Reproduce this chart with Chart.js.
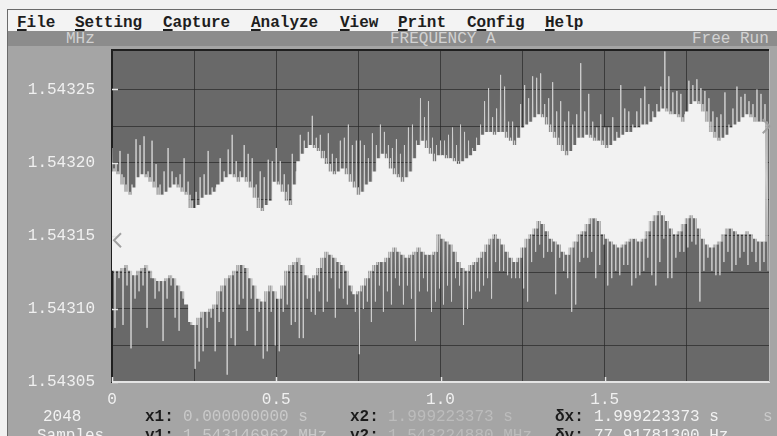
<!DOCTYPE html>
<html><head><meta charset="utf-8">
<script src="https://cdn.jsdelivr.net/npm/chart.js@4/dist/chart.umd.min.js"></script>
<style>
html,body{margin:0;padding:0;width:777px;height:436px;overflow:hidden;background:#f1f1f1;}
#frame{position:absolute;left:7px;top:9px;width:770px;height:427px;border-left:1px solid #6a6a6a;border-top:1px solid #6a6a6a;background:#f3f3f3;}
#panel{position:absolute;left:8px;top:31px;width:769px;height:405px;background:#a5a5a5;}
#titlebar{position:absolute;left:8px;top:31px;width:769px;height:15px;background:#8c8c8c;}
.t{position:absolute;font-family:"Liberation Mono",monospace;font-size:16px;line-height:16px;white-space:pre;}
.menu{font-weight:bold;color:#1e1e1e;top:15px;}
.menu u{text-decoration-thickness:2px;text-underline-offset:2px;}
.title{color:#d2d2d2;top:31px;}
.lbl{font-weight:bold;color:#1b1b1b;}
.val1{color:#c9c9c9;}
.val2{color:#bcbcbc;}
.valw{color:#f2f2f2;}
canvas{position:absolute;left:0;top:0;}
</style></head>
<body>
<div id="frame"></div>
<div id="panel"></div>
<div id="titlebar"></div>
<span class="t menu" style="left:17px"><u>F</u>ile</span>
<span class="t menu" style="left:75px"><u>S</u>etting</span>
<span class="t menu" style="left:163px"><u>C</u>apture</span>
<span class="t menu" style="left:251px"><u>A</u>nalyze</span>
<span class="t menu" style="left:340px"><u>V</u>iew</span>
<span class="t menu" style="left:398px"><u>P</u>rint</span>
<span class="t menu" style="left:467px">C<u>o</u>nfig</span>
<span class="t menu" style="left:545px"><u>H</u>elp</span>
<span class="t title" style="left:66px">MHz</span>
<span class="t title" style="left:390px">FREQUENCY A</span>
<span class="t title" style="left:692px">Free Run</span>
<canvas id="c" width="777" height="436"></canvas>
<span class="t valw" style="left:43px;top:409px">2048</span>
<span class="t lbl" style="left:145px;top:409px">x1:</span>
<span class="t val1" style="left:183px;top:409px">0.000000000 s</span>
<span class="t lbl" style="left:350px;top:409px">x2:</span>
<span class="t val2" style="left:388px;top:409px">1.999223373 s</span>
<span class="t lbl" style="left:555px;top:409px">δx:</span>
<span class="t valw" style="left:594px;top:409px">1.999223373 s</span>
<span class="t val1" style="left:763px;top:409px">s</span>
<span class="t valw" style="left:37px;top:428px">Samples</span>
<span class="t lbl" style="left:145px;top:428px">y1:</span>
<span class="t val1" style="left:183px;top:428px">1.543146962 MHz</span>
<span class="t lbl" style="left:350px;top:428px">y2:</span>
<span class="t val2" style="left:388px;top:428px">1.543224880 MHz</span>
<span class="t lbl" style="left:555px;top:428px">δy:</span>
<span class="t valw" style="left:594px;top:428px">77.91781300 Hz</span>
<script>
// ---- data (MHz), read per ~4 px column of the trace ----
const duration = 2.0; // seconds shown
const spikeHigh = [
1.543210,1.543199,1.543208,1.543190,1.543206,1.543185,1.543216,1.543212,1.543218,1.543194,1.543215,1.543199,1.543185,1.543194,1.543210,1.543194,1.543190,1.543192,1.543203,1.543187,1.543174,1.543180,1.543190,1.543192,1.543208,1.543183,1.543183,1.543203,1.543194,1.543209,1.543219,1.543201,1.543194,1.543212,1.543206,1.543203,1.543185,1.543194,1.543190,1.543202,1.543201,
1.543210,1.543201,1.543192,1.543185,1.543206,1.543194,1.543219,1.543215,1.543221,1.543232,1.543217,1.543219,1.543208,1.543220,1.543206,1.543203,1.543215,1.543217,1.543226,1.543212,1.543215,1.543215,1.543212,1.543203,1.543220,1.543212,1.543226,1.543221,1.543212,1.543210,1.543216,1.543206,1.543212,1.543224,1.543226,1.543215,1.543244,1.543231,1.543242,1.543217,1.543212,
1.543215,1.543215,1.543219,1.543224,1.543212,1.543226,1.543221,1.543215,1.543210,1.543217,1.543226,1.543242,1.543251,1.543231,1.543237,1.543260,1.543252,1.543228,1.543228,1.543224,1.543240,1.543253,1.543244,1.543259,1.543258,1.543261,1.543240,1.543244,1.543255,1.543235,1.543242,1.543228,1.543235,1.543226,1.543233,1.543268,1.543235,1.543247,1.543228,1.543224,1.543233,
1.543224,1.543224,1.543231,1.543221,1.543253,1.543237,1.543235,1.543226,1.543235,1.543244,1.543252,1.543240,1.543235,1.543240,1.543252,1.543276,1.543259,1.543248,1.543249,1.543247,1.543233,1.543256,1.543253,1.543257,1.543251,1.543249,1.543244,1.543235,1.543231,1.543233,1.543248,1.543226,1.543237,1.543252,1.543245,1.543247,1.543242,1.543240,1.543250,1.543247,1.543240];
const coreTop = [
1.543196,1.543194,1.543192,1.543185,1.543180,1.543178,1.543183,1.543190,1.543192,1.543190,1.543187,1.543183,1.543178,1.543178,1.543180,1.543183,1.543185,1.543183,1.543180,1.543178,1.543169,1.543169,1.543171,1.543176,1.543178,1.543178,1.543180,1.543185,1.543187,1.543190,1.543192,1.543190,1.543187,1.543190,1.543187,1.543183,1.543176,1.543169,1.543167,1.543171,1.543174,
1.543187,1.543185,1.543180,1.543174,1.543171,1.543185,1.543201,1.543206,1.543210,1.543212,1.543210,1.543208,1.543203,1.543199,1.543194,1.543192,1.543194,1.543196,1.543192,1.543187,1.543183,1.543178,1.543180,1.543185,1.543187,1.543194,1.543203,1.543206,1.543203,1.543196,1.543192,1.543190,1.543187,1.543190,1.543194,1.543203,1.543212,1.543215,1.543210,1.543206,1.543201,
1.543205,1.543205,1.543203,1.543203,1.543201,1.543199,1.543201,1.543203,1.543205,1.543208,1.543212,1.543219,1.543221,1.543221,1.543219,1.543221,1.543221,1.543217,1.543215,1.543212,1.543217,1.543224,1.543226,1.543228,1.543231,1.543233,1.543231,1.543226,1.543221,1.543217,1.543212,1.543208,1.543205,1.543208,1.543212,1.543217,1.543217,1.543219,1.543217,1.543215,1.543215,
1.543212,1.543210,1.543212,1.543215,1.543217,1.543219,1.543221,1.543221,1.543224,1.543224,1.543226,1.543226,1.543228,1.543231,1.543235,1.543237,1.543235,1.543233,1.543233,1.543231,1.543228,1.543235,1.543240,1.543242,1.543240,1.543235,1.543228,1.543221,1.543217,1.543215,1.543217,1.543219,1.543224,1.543226,1.543228,1.543231,1.543233,1.543231,1.543228,1.543228,1.543228];
const coreBottom = [
1.543130,1.543126,1.543126,1.543128,1.543130,1.543126,1.543123,1.543126,1.543128,1.543130,1.543126,1.543121,1.543119,1.543119,1.543121,1.543123,1.543121,1.543116,1.543112,1.543103,1.543091,1.543089,1.543094,1.543098,1.543098,1.543100,1.543103,1.543112,1.543116,1.543121,1.543123,1.543126,1.543130,1.543130,1.543128,1.543121,1.543116,1.543107,1.543105,1.543112,1.543116,
1.543112,1.543107,1.543116,1.543126,1.543130,1.543132,1.543135,1.543130,1.543123,1.543121,1.543123,1.543128,1.543135,1.543139,1.543137,1.543135,1.543132,1.543130,1.543126,1.543116,1.543110,1.543112,1.543116,1.543121,1.543126,1.543130,1.543132,1.543132,1.543135,1.543139,1.543142,1.543139,1.543137,1.543135,1.543137,1.543139,1.543142,1.543139,1.543137,1.543137,1.543139,
1.543151,1.543148,1.543146,1.543144,1.543139,1.543132,1.543128,1.543126,1.543130,1.543132,1.543135,1.543139,1.543144,1.543148,1.543151,1.543148,1.543144,1.543139,1.543135,1.543132,1.543135,1.543142,1.543148,1.543151,1.543155,1.543160,1.543158,1.543153,1.543148,1.543146,1.543144,1.543139,1.543137,1.543142,1.543146,1.543151,1.543153,1.543158,1.543162,1.543162,1.543160,
1.543151,1.543148,1.543146,1.543144,1.543142,1.543144,1.543146,1.543148,1.543148,1.543146,1.543148,1.543153,1.543160,1.543164,1.543167,1.543164,1.543160,1.543155,1.543151,1.543153,1.543158,1.543162,1.543164,1.543162,1.543155,1.543148,1.543144,1.543142,1.543144,1.543146,1.543151,1.543155,1.543155,1.543153,1.543151,1.543151,1.543153,1.543151,1.543148,1.543146,1.543146];
const spikeLow = [
1.543087,1.543121,1.543089,1.543116,1.543073,1.543107,1.543112,1.543116,1.543087,1.543121,1.543107,1.543112,1.543078,1.543107,1.543116,1.543094,1.543085,1.543107,1.543107,1.543089,1.543059,1.543064,1.543071,1.543087,1.543094,1.543071,1.543091,1.543098,1.543055,1.543080,1.543075,1.543103,1.543107,1.543085,1.543107,1.543075,1.543098,1.543066,1.543071,1.543098,1.543075,
1.543071,1.543098,1.543103,1.543089,1.543091,1.543080,1.543080,1.543107,1.543098,1.543096,1.543112,1.543098,1.543105,1.543121,1.543094,1.543114,1.543107,1.543103,1.543112,1.543098,1.543069,1.543100,1.543105,1.543091,1.543105,1.543116,1.543098,1.543112,1.543103,1.543121,1.543116,1.543103,1.543116,1.543107,1.543078,1.543112,1.543121,1.543112,1.543098,1.543105,1.543114,
1.543103,1.543116,1.543105,1.543121,1.543116,1.543089,1.543100,1.543107,1.543112,1.543112,1.543116,1.543121,1.543107,1.543132,1.543126,1.543126,1.543123,1.543121,1.543121,1.543121,1.543114,1.543105,1.543132,1.543139,1.543144,1.543135,1.543139,1.543139,1.543110,1.543135,1.543126,1.543121,1.543098,1.543103,1.543132,1.543135,1.543135,1.543139,1.543121,1.543130,1.543144,
1.543116,1.543121,1.543126,1.543123,1.543130,1.543130,1.543116,1.543121,1.543123,1.543126,1.543135,1.543123,1.543116,1.543132,1.543148,1.543121,1.543121,1.543135,1.543139,1.543139,1.543142,1.543146,1.543144,1.543105,1.543126,1.543135,1.543126,1.543123,1.543123,1.543132,1.543139,1.543126,1.543130,1.543135,1.543139,1.543130,1.543139,1.543132,1.543126,1.543132,1.543126];

const xGridValues = [0,0.25,0.5,0.75,1.0,1.25,1.5,1.75,2.0];
const xTickValues = [0,0.5,1.0,1.5];
const xTickLabels = ['0','0.5','1.0','1.5'];
const yMin = 1.54305, yMax = 1.543277;
const yGridValues = [1.54305,1.543075,1.5431,1.543125,1.54315,1.543175,1.5432,1.543225,1.54325,1.543277];
const yTickValues = [1.54305,1.5431,1.54315,1.5432,1.54325];
const yTickLabels = ['1.54305','1.54310','1.54315','1.54320','1.54325'];
const cursorX = [0.0, 1.999223373];
const cursorY = [1.543146962, 1.543224880];

// ---- build point tables: 4 samples per column (high, core bottom, core top, low) ----
const n = spikeHigh.length;
const dt = duration / n;
const tracePts = [], topPts = [], botPts = [];
for (let i = 0; i < n; i++) {
  const t0 = i * dt;
  tracePts.push({x: t0, y: spikeHigh[i]});
  tracePts.push({x: t0 + dt / 4, y: coreBottom[i]});
  tracePts.push({x: t0 + dt / 2, y: coreTop[i]});
  tracePts.push({x: t0 + 3 * dt / 4, y: spikeLow[i]});
  topPts.push({x: t0, y: coreTop[i]});
  botPts.push({x: t0, y: coreBottom[i]});
}

const plotBg = '#696969', gridCol = 'rgba(40,40,40,0.7)', core = '#f2f2f2', spike = '#cfcfcf', txt = '#f0f0f0';
const lab = (vals, labels, v) => { const k = vals.findIndex(a => Math.abs(a - v) < 1e-9); return k >= 0 ? labels[k] : ''; };

const deco = {
  id: 'deco',
  beforeDraw(ch) {
    const a = ch.chartArea, c = ch.ctx;
    c.save(); c.fillStyle = plotBg; c.fillRect(a.left, a.top, a.right - a.left, a.bottom - a.top); c.restore();
  },
  afterDraw(ch) {
    const a = ch.chartArea, c = ch.ctx, xs = ch.scales.x, ys = ch.scales.y;
    c.save();
    c.strokeStyle = '#1f1f1f'; c.lineWidth = 2;
    c.beginPath(); c.moveTo(a.left, a.top); c.lineTo(a.right, a.top); c.stroke();
    c.strokeStyle = '#b9b9b9'; c.lineWidth = 1;
    c.beginPath(); c.moveTo(a.right + 0.5, a.top); c.lineTo(a.right + 0.5, a.bottom); c.stroke();
    c.strokeStyle = '#e6e6e6'; c.lineWidth = 1.5;
    yTickValues.forEach(v => { const y = Math.round(ys.getPixelForValue(v)) + 0.5; c.beginPath(); c.moveTo(a.left, y); c.lineTo(a.left + 6, y); c.stroke(); });
    xTickValues.forEach(v => { const x = Math.round(xs.getPixelForValue(v)) + 0.5; c.beginPath(); c.moveTo(x, a.bottom); c.lineTo(x, a.bottom - 5); c.stroke(); });
    c.strokeStyle = '#a0a0a0'; c.lineWidth = 2;
    let x1 = xs.getPixelForValue(cursorX[0]) + 2, y1 = ys.getPixelForValue(cursorY[0]);
    c.beginPath(); c.moveTo(x1 + 7, y1 - 7); c.lineTo(x1, y1); c.lineTo(x1 + 7, y1 + 7); c.stroke();
    let x2 = xs.getPixelForValue(cursorX[1]), y2 = ys.getPixelForValue(cursorY[1]);
    c.beginPath(); c.moveTo(x2 - 6, y2 - 7); c.lineTo(x2 + 1, y2); c.lineTo(x2 - 6, y2 + 7); c.stroke();
    c.restore();
  }
};

new Chart(document.getElementById('c'), {
  type: 'line',
  data: { datasets: [
    {label: 'core top', data: topPts, borderColor: 'rgba(0,0,0,0)', backgroundColor: core, borderWidth: 0, pointRadius: 0, fill: '+1', stepped: 'after', order: 0},
    {label: 'core bottom', data: botPts, borderColor: 'rgba(0,0,0,0)', borderWidth: 0, pointRadius: 0, fill: false, stepped: 'after', order: 0},
    {label: 'samples', data: tracePts, borderColor: spike, borderWidth: 1, pointRadius: 0, fill: false, order: 1}
  ]},
  options: {
    responsive: false, animation: false, devicePixelRatio: 1,
    layout: {padding: {top: 50, right: 7, left: 0, bottom: 0}},
    plugins: {legend: {display: false}, tooltip: {enabled: false}},
    scales: {
      x: {
        type: 'linear', min: 0, max: duration,
        afterBuildTicks: s => { s.ticks = xGridValues.map(v => ({value: v})); },
        afterFit: s => { s.height = 54; },
        ticks: {color: txt, font: {family: 'Liberation Mono', size: 16}, padding: 8, maxRotation: 0, autoSkip: false,
                callback: v => lab(xTickValues, xTickLabels, v)},
        grid: {color: gridCol, drawTicks: false, lineWidth: 1},
        border: {display: true, color: '#e4e4e4', width: 2}
      },
      y: {
        type: 'linear', min: yMin, max: yMax,
        afterBuildTicks: s => { s.ticks = yGridValues.map(v => ({value: v})); },
        afterFit: s => { s.width = 112; },
        ticks: {color: txt, font: {family: 'Liberation Mono', size: 16}, padding: 17, autoSkip: false,
                callback: v => lab(yTickValues, yTickLabels, v)},
        grid: {color: gridCol, drawTicks: false, lineWidth: 1},
        border: {display: true, color: '#1f1f1f', width: 2}
      }
    }
  },
  plugins: [deco]
});
</script>
</body></html>
